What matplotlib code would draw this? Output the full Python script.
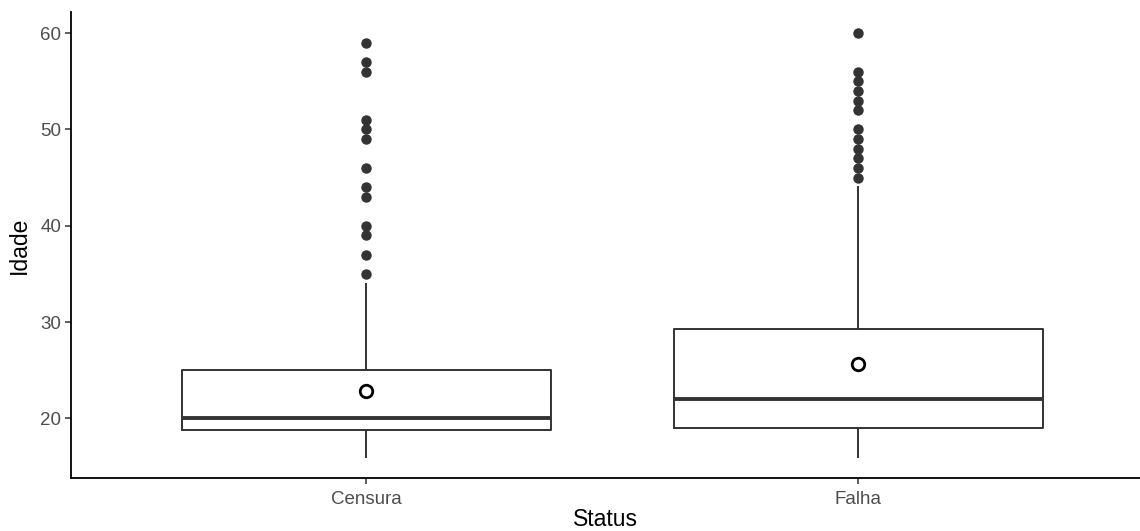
import matplotlib.pyplot as plt
import numpy as np

plt.rcParams['font.family'] = ['Liberation Sans', 'DejaVu Sans']

status = ['Censura', 'Falha']
q1 = [18.75, 19.0]
median = [20.0, 22.0]
q3 = [25.0, 29.25]
whisk_lo = [16.0, 16.0]
whisk_hi = [34.0, 44.0]
means = [22.8, 25.6]
outliers = [
    [35, 37, 39, 40, 43, 44, 46, 49, 50, 51, 56, 57, 59],
    [45, 46, 47, 48, 49, 50, 52, 53, 54, 55, 56, 60],
]

W, H = 1140, 531
fig = plt.figure(figsize=(W / 100, H / 100), dpi=100)
ax = fig.add_axes([71 / W, 1 - 478 / H, (W - 71) / W, (478 - 12) / H])

stats = []
for i, name in enumerate(status):
    stats.append(dict(label=name, q1=q1[i], med=median[i], q3=q3[i],
                      whislo=whisk_lo[i], whishi=whisk_hi[i],
                      fliers=np.array(outliers[i]), mean=means[i]))

dark = '#333333'
pos = np.arange(1, len(status) + 1)
ax.bxp(stats, positions=pos, widths=0.75, showcaps=False, showmeans=True,
       boxprops=dict(color=dark, linewidth=1.4),
       whiskerprops=dict(color=dark, linewidth=1.4),
       medianprops=dict(color=dark, linewidth=2.8),
       flierprops=dict(marker='o', markerfacecolor=dark, markeredgecolor=dark,
                       markersize=6.5, linestyle='none'),
       meanprops=dict(marker='o', markerfacecolor='white', markeredgecolor='black',
                      markersize=9, markeredgewidth=2.0))

ax.set_xlim(0.4, 1 + (W - 366) / 492)
ax.set_ylim(13.8, 62.2)
ax.set_yticks([20, 30, 40, 50, 60])
ax.set_xticks(pos)
ax.set_xticklabels(status)

for side in ['top', 'right']:
    ax.spines[side].set_visible(False)
for side in ['left', 'bottom']:
    ax.spines[side].set_linewidth(1.3)
    ax.spines[side].set_color('black')

ax.tick_params(axis='both', length=4, width=1.1, color=dark,
               labelsize=13.5, labelcolor='#4D4D4D')
ax.tick_params(axis='x', pad=5)
ax.tick_params(axis='y', pad=3)
ax.set_xlabel('Status', fontsize=16.5, labelpad=0.5)
ax.set_ylabel('Idade', fontsize=16.5, labelpad=7)

fig.savefig('out.png', dpi=100)
